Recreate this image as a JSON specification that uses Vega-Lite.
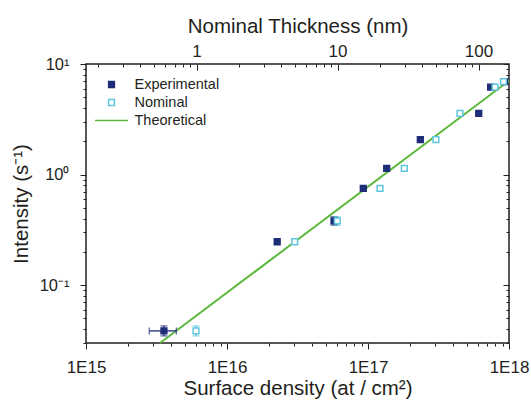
{
  "$schema": "https://vega.github.io/schema/vega-lite/v6.json",
  "width": 423,
  "height": 279,
  "autosize": "none",
  "padding": {"left": 86, "top": 64, "right": 22, "bottom": 58},
  "config": {
    "font": "Liberation Sans",
    "view": {"stroke": "#231f20", "strokeWidth": 1.5},
    "axis": {
      "labelFont": "Liberation Sans",
      "titleFont": "Liberation Sans",
      "labelColor": "#231f20",
      "titleColor": "#231f20",
      "tickColor": "#231f20",
      "tickWidth": 1,
      "labelFontSize": 17,
      "titleFontSize": 20.5,
      "titleFontWeight": "normal",
      "grid": false,
      "domain": false,
      "labelFlush": false,
      "labelOverlap": false,
      "tickDash": {"condition": {"test": "abs(log(datum.value)/LN10 - round(log(datum.value)/LN10)) < 1e-6", "value": []}, "value": [3, 10]}
    }
  },
  "datasets": {
    "points": [
      {"series": "Experimental", "density": 3.57e15, "intensity": 0.0386},
      {"series": "Experimental", "density": 2.27e16, "intensity": 0.247},
      {"series": "Experimental", "density": 5.74e16, "intensity": 0.382},
      {"series": "Experimental", "density": 9.26e16, "intensity": 0.75},
      {"series": "Experimental", "density": 1.357e17, "intensity": 1.14},
      {"series": "Experimental", "density": 2.35e17, "intensity": 2.07},
      {"series": "Experimental", "density": 6.1e17, "intensity": 3.58},
      {"series": "Experimental", "density": 7.41e17, "intensity": 6.19},
      {"series": "Experimental", "density": 9.29e17, "intensity": 6.92},
      {"series": "Nominal", "density": 6.03e15, "intensity": 0.0386},
      {"series": "Nominal", "density": 3.02e16, "intensity": 0.247},
      {"series": "Nominal", "density": 6.06e16, "intensity": 0.382},
      {"series": "Nominal", "density": 1.216e17, "intensity": 0.75},
      {"series": "Nominal", "density": 1.81e17, "intensity": 1.14},
      {"series": "Nominal", "density": 3.03e17, "intensity": 2.07},
      {"series": "Nominal", "density": 4.49e17, "intensity": 3.58},
      {"series": "Nominal", "density": 7.96e17, "intensity": 6.19},
      {"series": "Nominal", "density": 9.14e17, "intensity": 6.92}
    ],
    "yerrs": [
      {"series": "Experimental", "density": 3.57e15, "ylo": 0.0348, "yhi": 0.0428},
      {"series": "Nominal", "density": 6.03e15, "ylo": 0.0348, "yhi": 0.0428},
      {"series": "Experimental", "density": 5.74e16, "ylo": 0.349, "yhi": 0.415},
      {"series": "Nominal", "density": 6.06e16, "ylo": 0.349, "yhi": 0.415}
    ],
    "xerrs": [
      {"series": "Experimental", "intensity": 0.0386, "xlo": 2.81e15, "xhi": 4.37e15}
    ],
    "theory": [
      {"density": 3.35e15, "intensity": 0.03},
      {"density": 1e18, "intensity": 7.06}
    ],
    "thick": [{"nm": 1}]
  },
  "layer": [
    {
      "data": {"name": "theory"},
      "mark": {"type": "line", "stroke": "#5cb83c", "strokeWidth": 2},
      "encoding": {
        "x": {
          "field": "density", "type": "quantitative",
          "scale": {"type": "log", "domain": [1e15, 1e18], "nice": false},
          "axis": {
            "orient": "bottom",
            "title": "Surface density (at / cm²)",
            "titlePadding": 3,
            "tickSize": 6,
            "labelPadding": 10,
            "values": [1e15, 2e15, 3e15, 4e15, 5e15, 6e15, 7e15, 8e15, 9e15, 1e16, 2e16, 3e16, 4e16, 5e16, 6e16, 7e16, 8e16, 9e16, 1e17, 2e17, 3e17, 4e17, 5e17, 6e17, 7e17, 8e17, 9e17, 1e18],
            "labelExpr": "abs(log(datum.value)/LN10 - round(log(datum.value)/LN10)) < 1e-6 ? '1E' + round(log(datum.value)/LN10) : ''"
          }
        },
        "y": {
          "field": "intensity", "type": "quantitative",
          "scale": {"type": "log", "domain": [0.03, 10], "nice": false},
          "axis": {
            "orient": "left",
            "title": "Intensity (s⁻¹)",
            "titlePadding": 8,
            "tickSize": 6,
            "labelPadding": 11,
            "labelFontSize": 16.5,
            "values": [0.03, 0.04, 0.05, 0.06, 0.07, 0.08, 0.09, 0.1, 0.2, 0.3, 0.4, 0.5, 0.6, 0.7, 0.8, 0.9, 1, 2, 3, 4, 5, 6, 7, 8, 9, 10],
            "labelExpr": "datum.value == 10 ? '10¹' : datum.value == 1 ? '10⁰' : datum.value == 0.1 ? '10⁻¹' : ''"
          }
        }
      }
    },
    {
      "data": {"name": "yerrs"},
      "mark": {"type": "rule", "strokeWidth": 1.3},
      "encoding": {
        "x": {"field": "density", "type": "quantitative", "scale": {"type": "log", "domain": [1e15, 1e18], "nice": false}, "axis": null},
        "y": {"field": "ylo", "type": "quantitative", "scale": {"type": "log", "domain": [0.03, 10], "nice": false}, "axis": null},
        "y2": {"field": "yhi"},
        "stroke": {"condition": {"test": "datum.series === 'Nominal'", "value": "#5ec6dc"}, "value": "#1e2d78"}
      }
    },
    {
      "data": {"name": "yerrs"},
      "mark": {"type": "tick", "orient": "horizontal", "size": 7, "thickness": 1.3},
      "encoding": {
        "x": {"field": "density", "type": "quantitative", "scale": {"type": "log", "domain": [1e15, 1e18], "nice": false}, "axis": null},
        "y": {"field": "ylo", "type": "quantitative", "scale": {"type": "log", "domain": [0.03, 10], "nice": false}, "axis": null},
        "fill": {"condition": {"test": "datum.series === 'Nominal'", "value": "#5ec6dc"}, "value": "#1e2d78"}
      }
    },
    {
      "data": {"name": "yerrs"},
      "mark": {"type": "tick", "orient": "horizontal", "size": 7, "thickness": 1.3},
      "encoding": {
        "x": {"field": "density", "type": "quantitative", "scale": {"type": "log", "domain": [1e15, 1e18], "nice": false}, "axis": null},
        "y": {"field": "yhi", "type": "quantitative", "scale": {"type": "log", "domain": [0.03, 10], "nice": false}, "axis": null},
        "fill": {"condition": {"test": "datum.series === 'Nominal'", "value": "#5ec6dc"}, "value": "#1e2d78"}
      }
    },
    {
      "data": {"name": "xerrs"},
      "mark": {"type": "rule", "strokeWidth": 1.3, "stroke": "#1e2d78"},
      "encoding": {
        "x": {"field": "xlo", "type": "quantitative", "scale": {"type": "log", "domain": [1e15, 1e18], "nice": false}, "axis": null},
        "x2": {"field": "xhi"},
        "y": {"field": "intensity", "type": "quantitative", "scale": {"type": "log", "domain": [0.03, 10], "nice": false}, "axis": null}
      }
    },
    {
      "data": {"name": "xerrs"},
      "mark": {"type": "tick", "orient": "vertical", "size": 7, "thickness": 1.3, "color": "#1e2d78"},
      "encoding": {
        "x": {"field": "xlo", "type": "quantitative", "scale": {"type": "log", "domain": [1e15, 1e18], "nice": false}, "axis": null},
        "y": {"field": "intensity", "type": "quantitative", "scale": {"type": "log", "domain": [0.03, 10], "nice": false}, "axis": null}
      }
    },
    {
      "data": {"name": "xerrs"},
      "mark": {"type": "tick", "orient": "vertical", "size": 7, "thickness": 1.3, "color": "#1e2d78"},
      "encoding": {
        "x": {"field": "xhi", "type": "quantitative", "scale": {"type": "log", "domain": [1e15, 1e18], "nice": false}, "axis": null},
        "y": {"field": "intensity", "type": "quantitative", "scale": {"type": "log", "domain": [0.03, 10], "nice": false}, "axis": null}
      }
    },
    {
      "data": {"name": "points"},
      "mark": {"type": "point", "filled": false, "opacity": 1, "size": 1089, "strokeWidth": 1.5},
      "encoding": {
        "x": {"field": "density", "type": "quantitative", "scale": {"type": "log", "domain": [1e15, 1e18], "nice": false}, "axis": null},
        "y": {"field": "intensity", "type": "quantitative", "scale": {"type": "log", "domain": [0.03, 10], "nice": false}, "axis": null},
        "fill": {
          "field": "series", "type": "nominal",
          "scale": {"domain": ["Experimental", "Nominal", "Theoretical"], "range": ["#1e2d78", "white", "transparent"]},
          "legend": null
        },
        "color": {
          "field": "series", "type": "nominal",
          "scale": {"domain": ["Experimental", "Nominal", "Theoretical"], "range": ["#1e2d78", "#5ec6dc", "#5cb83c"]},
          "legend": {
            "orient": "none", "legendX": 8, "legendY": 12.5, "title": null,
            "clipHeight": 16, "rowPadding": 2, "symbolSize": 1089, "symbolStrokeWidth": 1.5,
            "labelOffset": 5.5, "labelFontSize": 14.5, "labelFont": "Liberation Sans", "labelColor": "#231f20", "padding": 0,
            "encode": {
              "symbols": {
                "update": {
                  "fill": {"signal": "datum.value === 'Experimental' ? '#1e2d78' : datum.value === 'Nominal' ? 'white' : 'transparent'"},
                  "stroke": {"signal": "datum.value === 'Experimental' ? '#1e2d78' : datum.value === 'Nominal' ? '#5ec6dc' : '#5cb83c'"},
                  "shape": {"signal": "datum.value === 'Theoretical' ? 'stroke' : 'M-0.175,-0.175H0.175V0.175H-0.175Z'"},
                  "strokeWidth": {"signal": "datum.value === 'Theoretical' ? 2 : 1.5"},
                  "opacity": {"value": 1}
                }
              }
            }
          }
        },
        "shape": {
          "field": "series", "type": "nominal",
          "scale": {"domain": ["Experimental", "Nominal", "Theoretical"], "range": ["M-0.175,-0.175H0.175V0.175H-0.175Z", "M-0.175,-0.175H0.175V0.175H-0.175Z", "stroke"]},
          "legend": null
        }
      }
    },
    {
      "data": {"name": "points"},
      "mark": {"type": "point", "opacity": 0},
      "encoding": {
        "x": {"field": "density", "type": "quantitative", "scale": {"type": "log", "domain": [1e15, 1e18], "nice": false}, "axis": null},
        "y": {
          "field": "intensity", "type": "quantitative",
          "scale": {"type": "log", "domain": [0.03, 10], "nice": false},
          "axis": {
            "orient": "right", "title": null, "labels": false, "tickSize": -6,
            "values": [0.03, 0.04, 0.05, 0.06, 0.07, 0.08, 0.09, 0.1, 0.2, 0.3, 0.4, 0.5, 0.6, 0.7, 0.8, 0.9, 1, 2, 3, 4, 5, 6, 7, 8, 9, 10]
          }
        }
      }
    },
    {
      "data": {"name": "thick"},
      "mark": {"type": "point", "opacity": 0},
      "encoding": {
        "x": {
          "field": "nm", "type": "quantitative",
          "scale": {"type": "log", "domain": [0.1645, 164.5], "nice": false},
          "axis": {
            "orient": "top",
            "title": "Nominal Thickness (nm)",
            "titlePadding": 6,
            "tickSize": -6,
            "labelPadding": 10,
            "values": [0.2, 0.3, 0.4, 0.5, 0.6, 0.7, 0.8, 0.9, 1, 2, 3, 4, 5, 6, 7, 8, 9, 10, 20, 30, 40, 50, 60, 70, 80, 90, 100],
            "labelExpr": "(datum.value == 1 || datum.value == 10 || datum.value == 100) ? format(datum.value, 'd') : ''"
          }
        }
      }
    }
  ],
  "resolve": {"scale": {"x": "independent", "y": "independent"}}
}
